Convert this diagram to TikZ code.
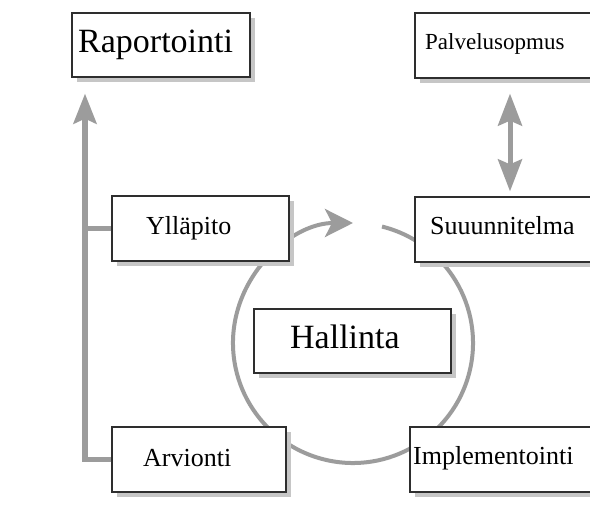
\documentclass[tikz,border=0pt]{standalone}
\usepackage{fontspec}
\setmainfont{Liberation Serif}
\usetikzlibrary{arrows.meta}
\definecolor{linegray}{HTML}{9C9C9C}
\definecolor{shadegray}{HTML}{C6C6C6}
\definecolor{edgegray}{HTML}{2E2E2E}
\tikzset{
  box/.style={draw=edgegray, line width=1.3pt, fill=white, inner sep=0pt,
    preaction={fill=shadegray, transform canvas={xshift=5pt, yshift=-5pt}}},
  lbl/.style={inner sep=0pt, anchor=base west, text=black},
  conn/.style={draw=linegray, line width=5.5pt,
    -{Stealth[length=30pt, width=23pt, inset=5pt]}},
  plain/.style={draw=linegray, line width=5.5pt},
  twoway/.style={draw=linegray, line width=5pt,
    {Stealth[length=32pt, width=24pt, inset=5pt]}-{Stealth[length=32pt, width=24pt, inset=5pt]}},
  ring/.style={draw=linegray, line width=4pt,
    -{Stealth[length=28pt, width=28pt, inset=7pt]}}
}
\begin{document}
\begin{tikzpicture}[x=1pt, y=-1pt]
  \useasboundingbox (0,0) rectangle (590,529);
  \clip (0,0) rectangle (590,529);
  \fill[white] (0,0) rectangle (590,529);

  % the management cycle, drawn first so the boxes cover it
  \coordinate (c) at (353,343);
  \draw[ring] (c) ++(284:120) arc[start angle=284, end angle=630, radius=120];

  % boxes
  \node[box, minimum width=178pt, minimum height=64pt] (rap) at (161,45) {};
  \node[box, minimum width=180pt, minimum height=65pt] (pal) at (505,45.5) {};
  \node[box, minimum width=177pt, minimum height=65pt] (yll) at (200.5,228.5) {};
  \node[box, minimum width=180pt, minimum height=65pt] (suu) at (505,229.5) {};
  \node[box, minimum width=197pt, minimum height=64pt] (hal) at (352.5,341) {};
  \node[box, minimum width=174pt, minimum height=65pt] (arv) at (199,459.5) {};
  \node[box, minimum width=185pt, minimum height=65pt] (imp) at (502.5,459.5) {};

  % labels
  \node[lbl, font=\fontsize{34pt}{40pt}\selectfont] (raptxt) at (78,53) {Raportointi};
  \node[lbl, font=\fontsize{23pt}{28pt}\selectfont] (paltxt) at (425,50) {Palvelusopmus};
  \node[lbl, font=\fontsize{26pt}{31pt}\selectfont] (ylltxt) at (146,235) {Ylläpito};
  \node[lbl, font=\fontsize{26pt}{31pt}\selectfont] (suutxt) at (430,235) {Suuunnitelma};
  \node[lbl, font=\fontsize{34pt}{40pt}\selectfont] (haltxt) at (290,349) {Hallinta};
  \node[lbl, font=\fontsize{26pt}{31pt}\selectfont] (arvtxt) at (143,467) {Arvionti};
  \node[lbl, font=\fontsize{26pt}{31pt}\selectfont] (imptxt) at (413,465) {Implementointi};

  % reporting spine on the left
  \coordinate (spine) at (85,459.5);
  \draw[conn, shorten >=16pt] (arv.west) -- (spine) -- (spine |- rap.south);
  \draw[plain] (yll.west) -- (yll.west -| spine);

  % service agreement <-> plan
  \draw[twoway, shorten <=15pt, shorten >=5pt]
    ([xshift=5pt]pal.south) -- ([xshift=5pt]suu.north);
\end{tikzpicture}
\end{document}
